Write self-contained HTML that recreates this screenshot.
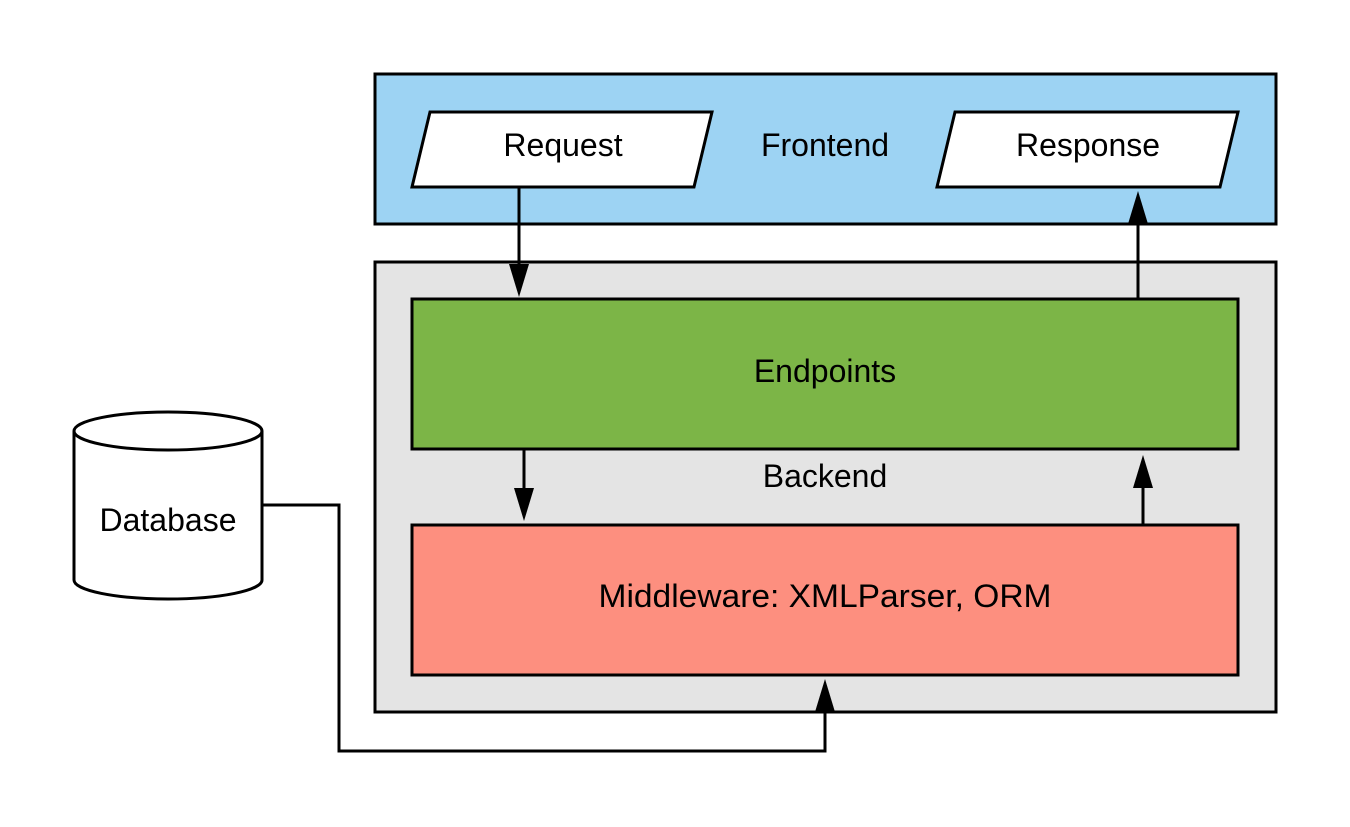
<!DOCTYPE html>
<html><head><meta charset="utf-8"><style>html,body{margin:0;padding:0;background:#fff}svg{display:block}</style></head>
<body>
<svg width="1350" height="827" viewBox="0 0 1350 827" xmlns="http://www.w3.org/2000/svg" font-family="Liberation Sans, sans-serif" font-size="32">
<rect x="375" y="74" width="901" height="150" fill="#9dd3f3" stroke="#000" stroke-width="3"/>
<rect x="375" y="262" width="901" height="450" fill="#e4e4e4" stroke="#000" stroke-width="3"/>
<polygon points="430,112 712,112 694,187 412,187" fill="#fff" stroke="#000" stroke-width="3"/>
<polygon points="955,112 1238,112 1220,187 937,187" fill="#fff" stroke="#000" stroke-width="3"/>
<text x="563" y="156" text-anchor="middle">Request</text>
<text x="1088" y="156" text-anchor="middle">Response</text>
<text x="825" y="156" text-anchor="middle">Frontend</text>
<rect x="412" y="299" width="826" height="150" fill="#7cb547" stroke="#000" stroke-width="3"/>
<text x="825" y="382" text-anchor="middle">Endpoints</text>
<text x="825" y="487" text-anchor="middle">Backend</text>
<rect x="412" y="525" width="826" height="150" fill="#fd8f7f" stroke="#000" stroke-width="3"/>
<text x="825" y="607" text-anchor="middle" textLength="453" lengthAdjust="spacingAndGlyphs">Middleware: XMLParser, ORM</text>
<g stroke="#000" stroke-width="3" fill="none">
<line x1="519" y1="187" x2="519" y2="266"/>
<line x1="1138" y1="299" x2="1138" y2="222"/>
<line x1="524" y1="449" x2="524" y2="490"/>
<line x1="1143" y1="525" x2="1143" y2="486"/>
<polyline points="262,505 339,505 339,751 825,751 825,708"/>
</g>
<g fill="#000">
<polygon points="509,264 529,264 519,297"/>
<polygon points="1128,224 1148,224 1138,191"/>
<polygon points="514,488 534,488 524,521"/>
<polygon points="1133,488 1153,488 1143,455"/>
<polygon points="815,712 835,712 825,679"/>
</g>
<path d="M74,431 L74,580 A94,19 0 0 0 262,580 L262,431" fill="#fff" stroke="#000" stroke-width="3"/>
<ellipse cx="168" cy="431" rx="94" ry="19" fill="#fff" stroke="#000" stroke-width="3"/>
<text x="168" y="531" text-anchor="middle">Database</text>
</svg>
</body></html>
